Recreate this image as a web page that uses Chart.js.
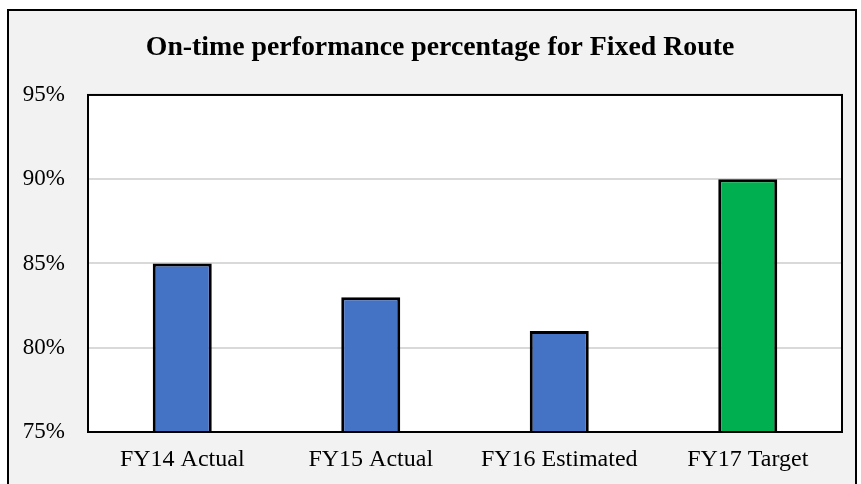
<!DOCTYPE html>
<html>
<head>
<meta charset="utf-8">
<script src="https://cdn.jsdelivr.net/npm/chart.js@4.4.1/dist/chart.umd.min.js"></script>
<style>
  body { margin: 0; background: #ffffff; }
  #frame {
    position: absolute; left: 7px; top: 9px; width: 846px; height: 480px;
    border: 2px solid #000000; background: #f2f2f2;
  }
  #wrap { position: absolute; left: 0; top: 0; width: 861px; height: 484px; }
</style>
</head>
<body>
<div id="frame"></div>
<div id="wrap"><canvas id="otpChart" width="861" height="484"></canvas></div>
<script>
const fiscalYears = ["FY14 Actual", "FY15 Actual", "FY16 Estimated", "FY17 Target"];
const onTimePercent = [85, 83, 81, 90];
const barColors = ["#4472C4", "#4472C4", "#4472C4", "#00B050"];

const serif = "'Liberation Serif', 'Times New Roman', serif";

// white plot background + black box round it
const plotBox = {
  id: "plotBox",
  afterLayout(chart) {
    // title in the original sits a bit right of the canvas centre
    if (chart.titleBlock) {
      chart.titleBlock.left = 38;
    }
  },
  beforeDraw(chart) {
    const a = chart.chartArea;
    const ctx = chart.ctx;
    ctx.save();
    ctx.fillStyle = "#ffffff";
    ctx.fillRect(a.left, a.top, a.right - a.left, a.bottom - a.top);
    ctx.restore();
  },
  afterDraw(chart) {
    const a = chart.chartArea;
    const ctx = chart.ctx;
    ctx.save();
    ctx.strokeStyle = "#000000";
    ctx.lineWidth = 2;
    ctx.strokeRect(a.left, a.top, a.right - a.left, a.bottom - a.top);
    ctx.restore();
  }
};

otpChartData = {
  labels: fiscalYears,
  datasets: [
    {
      label: "On-time performance",
      data: onTimePercent,
      backgroundColor: barColors,
      borderColor: "#000000",
      borderWidth: 3,
      categoryPercentage: 1,
      barPercentage: 0.313,
    },
  ],
};

otpChartConfig = {
  type: "bar",
  data: otpChartData,
  plugins: [plotBox],
  options: {
    responsive: false,
    animation: false,
    layout: { padding: { left: 0, right: 19, top: 0, bottom: 0 } },
    plugins: {
      legend: { display: false },
      tooltip: { enabled: false },
      title: {
        display: true,
        text: "On-time performance percentage for Fixed Route",
        color: "#000000",
        font: { family: serif, size: 27.8, weight: "bold", lineHeight: 1.2 },
        padding: { top: 30.7, bottom: 30.9 },
      },
    },
    scales: {
      x: {
        grid: { display: false, drawTicks: false },
        border: { display: false },
        ticks: { color: "#000000", padding: 13, font: { family: serif, size: 24 } },
        afterFit: (scale) => { scale.height = 52; },
      },
      y: {
        min: 75,
        max: 95,
        grid: { color: "#d9d9d9", lineWidth: 2, drawTicks: false },
        border: { display: false },
        ticks: {
          stepSize: 5,
          color: "#000000",
          padding: 23,
          font: { family: serif, size: 23 },
          callback: (v) => v + "%",
        },
        afterFit: (scale) => { scale.width = 88; },
      },
    },
  },
};

otpChart = new Chart(document.getElementById("otpChart"), otpChartConfig);
</script>
</body>
</html>
